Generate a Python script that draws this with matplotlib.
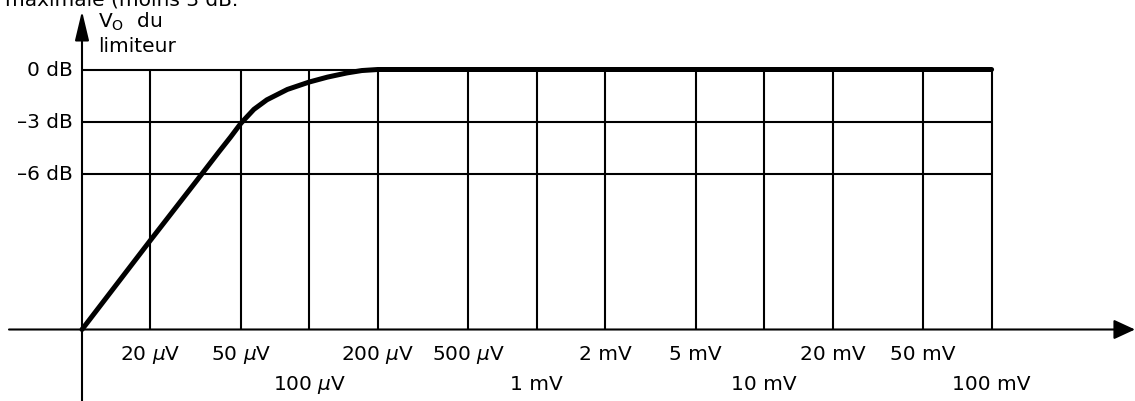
import matplotlib
matplotlib.use('Agg')
import matplotlib.pyplot as plt

plt.rcParams['font.family'] = ['DejaVu Sans']
plt.rcParams['mathtext.fontset'] = 'dejavusans'

# ---- data (input voltage in microvolts, output level in dB) ----
curve_uV = [10, 20, 32, 40, 45, 50, 57, 65, 80, 100, 120, 146, 170, 200, 500, 100000]
curve_dB = [-15, -9.85, -6.4, -4.75, -3.9, -3.1, -2.3, -1.75, -1.15, -0.72, -0.44,
            -0.2, -0.06, 0, 0, 0]

grid_uV = [20, 50, 100, 200, 500, 1000, 2000, 5000, 10000, 20000, 50000, 100000]
grid_dB = [0, -3, -6]
ylabels = ['0 dB', '\u20133 dB', '\u20136 dB']

row1_uV = [20, 50, 200, 500, 2000, 5000, 20000, 50000]
row1_lbl = ['20 $\\mu$V', '50 $\\mu$V', '200 $\\mu$V', '500 $\\mu$V',
            '2 mV', '5 mV', '20 mV', '50 mV']
row2_uV = [100, 1000, 10000, 100000]
row2_lbl = ['100 $\\mu$V', '1 mV', '10 mV', '100 mV']

origin_uV = 10
floor_dB = -15

W, H = 1135, 402
fig = plt.figure(figsize=(W / 100, H / 100), dpi=100)
ax = fig.add_axes([0, 0, 1, 1])
ax.set_xscale('log')
dec = 227.4          # pixels per decade
pxdb = 52 / 3        # pixels per dB
x0, y0 = 82, 70.5    # pixel of origin column / 0 dB row
ax.set_xlim(10 ** (1 - x0 / dec), 10 ** (1 + (W - x0) / dec))
ax.set_ylim(-(H - y0) / pxdb, y0 / pxdb)
ax.axis('off')

lw_grid = 1.5
# grid
ax.vlines(grid_uV, floor_dB, 0, colors='k', lw=lw_grid)
ax.hlines(grid_dB, origin_uV, grid_uV[-1], colors='k', lw=lw_grid)

# axes with arrows
xl = ax.get_xlim()
yl = ax.get_ylim()
ax.annotate('', xy=(xl[1], floor_dB), xytext=(10 ** (1 - (x0 - 9) / dec), floor_dB),
            arrowprops=dict(arrowstyle='-|>,head_length=13,head_width=6',
                            mutation_scale=1, lw=lw_grid, color='k',
                            shrinkA=0, shrinkB=0),
            annotation_clip=False)
ax.annotate('', xy=(origin_uV, (y0 - 12) / pxdb), xytext=(origin_uV, yl[0]),
            arrowprops=dict(arrowstyle='-|>,head_length=18,head_width=4.3',
                            mutation_scale=1, lw=lw_grid, color='k',
                            shrinkA=0, shrinkB=0),
            annotation_clip=False)

# curve
ax.plot(curve_uV, curve_dB, color='k', lw=3.6, solid_capstyle='round',
        solid_joinstyle='round', clip_on=False)

fs = 14.5
# y labels
for lvl, lbl in zip(grid_dB, ylabels):
    ax.annotate(lbl, xy=(origin_uV, lvl), xytext=(-6.5, 0),
                textcoords='offset points', ha='right', va='center', fontsize=fs)

# x labels
for v, lbl in zip(row1_uV, row1_lbl):
    ax.annotate(lbl, xy=(v, floor_dB), xytext=(0, -17.3),
                textcoords='offset points', ha='center', va='center', fontsize=fs)
for v, lbl in zip(row2_uV, row2_lbl):
    ax.annotate(lbl, xy=(v, floor_dB), xytext=(0, -38.9),
                textcoords='offset points', ha='center', va='center', fontsize=fs)

# axis title
ax.text(98 / W, 1 - 28 / H, 'V$_{\\mathregular{O}}$  du', transform=ax.transAxes,
        ha='left', va='baseline', fontsize=fs)
ax.text(98 / W, 1 - 52 / H, 'limiteur', transform=ax.transAxes,
        ha='left', va='baseline', fontsize=fs)

# clipped line of text at the top edge (cut in the source as well)
fig.text(238 / W, 1 - 5 / H, 'maximale (moins 3 dB.', ha='right', va='baseline',
         fontsize=fs)

fig.savefig('out.png', dpi=100)
